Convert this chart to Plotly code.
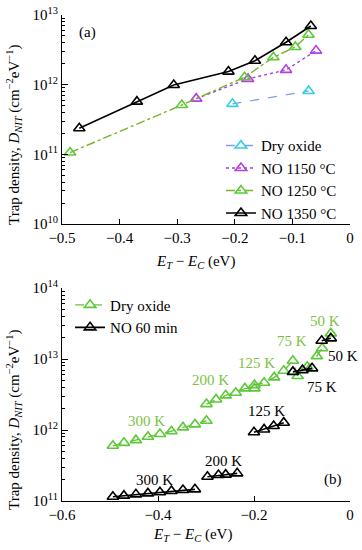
import math
import plotly.graph_objects as go

# ---------- Panel (a) data ----------
a_dry_x = [-0.204, -0.072]
a_dry_y = [5.3e11, 8.1e11]
a_1150_x = [-0.267, -0.177, -0.111, -0.059]
a_1150_y = [6.3e11, 1.21e12, 1.63e12, 3.08e12]
a_1250_x = [-0.486, -0.292, -0.183, -0.133, -0.095, -0.072]
a_1250_y = [1.06e11, 5.1e11, 1.28e12, 2.47e12, 3.48e12, 5.2e12]
a_1350_x = [-0.470, -0.370, -0.306, -0.211, -0.165, -0.111, -0.068]
a_1350_y = [2.37e11, 5.7e11, 9.9e11, 1.54e12, 2.2e12, 4.06e12, 6.95e12]

# ---------- Panel (b) data ----------
b_dry_x = [-0.494, -0.471, -0.446, -0.421, -0.396, -0.372, -0.348, -0.323, -0.299, None,
           -0.299, -0.279, -0.259, -0.238, -0.219, -0.199, -0.199, -0.179, -0.158, -0.138,
           -0.119, -0.109, -0.089, -0.069, -0.058, -0.040]
b_dry_y = [6.0e11, 6.6e11, 7.2e11, 8.05e11, 8.8e11, 9.6e11, 1.09e12, 1.20e12, 1.35e12, None,
           2.32e12, 2.70e12, 3.08e12, 3.35e12, 3.86e12, 3.86e12, 4.3e12, 4.63e12, 5.52e12, 6.84e12,
           9.46e12, 5.77e12, 7.8e12, 1.10e13, 1.42e13, 2.30e13]
b_no_x = [-0.494, -0.471, -0.446, -0.421, -0.396, -0.372, -0.348, -0.323, None,
          -0.297, -0.274, -0.259, -0.235, None,
          -0.200, -0.179, -0.159, -0.138, None,
          -0.119, -0.099, -0.079, None,
          -0.059, -0.040]
b_no_y = [1.15e11, 1.19e11, 1.24e11, 1.28e11, 1.33e11, 1.38e11, 1.43e11, 1.46e11, None,
          2.20e11, 2.32e11, 2.35e11, 2.45e11, None,
          9.3e11, 1.02e12, 1.14e12, 1.27e12, None,
          6.6e12, 7.0e12, 7.4e12, None,
          1.81e13, 1.96e13]

green_labels = ["300 K", "200 K", "125 K", "75 K", "50 K"]
green_lab_x = [-0.423, -0.290, -0.194, -0.121, -0.052]
green_lab_y = [1.34e12, 5.06e12, 8.8e12, 1.79e13, 3.43e13]
black_labels = ["300 K", "200 K", "125 K", "75 K", "50 K"]
black_lab_x = [-0.408, -0.263, -0.175, -0.058, -0.015]
black_lab_y = [1.98e11, 3.66e11, 1.85e12, 4.04e12, 1.10e13]

FONT = "Liberation Serif"
GREEN_TXT = "#7cc242"

fig = go.Figure()

def tri(color):
    return dict(symbol="triangle-up-open", size=10, color=color, line=dict(width=1.6, color=color))

fig.add_trace(go.Scatter(x=a_dry_x, y=a_dry_y, name="Dry oxide", mode="lines+markers",
                         line=dict(color="#7f9fe6", dash="dash", width=1.4), marker=tri("#2fcfe6"),
                         xaxis="x", yaxis="y", legend="legend"))
fig.add_trace(go.Scatter(x=a_1150_x, y=a_1150_y, name="NO 1150 °C", mode="lines+markers",
                         line=dict(color="#a040e0", dash="dot", width=1.4), marker=tri("#b83ee0"),
                         xaxis="x", yaxis="y", legend="legend"))
fig.add_trace(go.Scatter(x=a_1250_x, y=a_1250_y, name="NO 1250 °C", mode="lines+markers",
                         line=dict(color="#78b428", dash="dashdot", width=1.4), marker=tri("#5cc83a"),
                         xaxis="x", yaxis="y", legend="legend"))
fig.add_trace(go.Scatter(x=a_1350_x, y=a_1350_y, name="NO 1350 °C", mode="lines+markers",
                         line=dict(color="black", width=1.6), marker=tri("black"),
                         xaxis="x", yaxis="y", legend="legend"))

fig.add_trace(go.Scatter(x=b_dry_x, y=b_dry_y, name="Dry oxide", mode="lines+markers",
                         line=dict(color="#6cc23a", dash="dash", width=1.4), marker=tri("#5cc83a"),
                         xaxis="x2", yaxis="y2", legend="legend2", connectgaps=False))
fig.add_trace(go.Scatter(x=b_no_x, y=b_no_y, name="NO 60 min", mode="lines+markers",
                         line=dict(color="black", width=1.6), marker=tri("black"),
                         xaxis="x2", yaxis="y2", legend="legend2", connectgaps=False))

# annotations on log axes take log10 of the value
for t, x, y in zip(green_labels, green_lab_x, green_lab_y):
    fig.add_annotation(x=x, y=math.log10(y), text=t, xref="x2", yref="y2",
                       showarrow=False, font=dict(family=FONT, size=15, color=GREEN_TXT))
for t, x, y in zip(black_labels, black_lab_x, black_lab_y):
    fig.add_annotation(x=x, y=math.log10(y), text=t, xref="x2", yref="y2",
                       showarrow=False, font=dict(family=FONT, size=15, color="black"))

def sup(e):
    return "10<sup>%d</sup>" % e

common_x = dict(showline=True, linecolor="black", linewidth=1.2, ticks="inside", ticklen=5,
                tickcolor="black", showgrid=False, zeroline=False, mirror=False, automargin=False,
                tickfont=dict(family=FONT, size=15, color="black"))
common_y = dict(type="log", showline=True, linecolor="black", linewidth=1.2, ticks="inside",
                ticklen=6, tickcolor="black", showgrid=False, zeroline=False, automargin=False,
                tickfont=dict(family=FONT, size=15, color="black"),
                minor=dict(ticks="inside", ticklen=3, tickcolor="black", dtick="D1", showgrid=False))

fig.update_layout(
    width=362, height=550, margin=dict(l=62, r=12, t=15, b=49),
    paper_bgcolor="white", plot_bgcolor="white",
    font=dict(family=FONT, size=15, color="black"),
    xaxis=dict(domain=[0, 1], anchor="y", range=[-0.5, 0.0], tickvals=[-0.5, -0.4, -0.3, -0.2, -0.1, 0],
               ticktext=["−0.5", "−0.4", "−0.3", "−0.2", "−0.1", "0"], **common_x),
    yaxis=dict(domain=[0.570, 1.0], anchor="x", range=[10, 13],
               tickvals=[1e10, 1e11, 1e12, 1e13], ticktext=[sup(10), sup(11), sup(12), sup(13)], **common_y),
    xaxis2=dict(domain=[0, 1], anchor="y2", range=[-0.6, 0.0], tickvals=[-0.6, -0.4, -0.2, 0],
                ticktext=["−0.6", "−0.4", "−0.2", "0"], **common_x),
    yaxis2=dict(domain=[0.0, 0.438], anchor="x2", range=[11, 14],
                tickvals=[1e11, 1e12, 1e13, 1e14], ticktext=[sup(11), sup(12), sup(13), sup(14)], **common_y),
    legend=dict(x=0.552, y=0.765, xanchor="left", yanchor="top", bgcolor="rgba(0,0,0,0)",
                font=dict(family=FONT, size=15), tracegroupgap=0, itemwidth=30),
    legend2=dict(x=0.028, y=0.437, xanchor="left", yanchor="top", bgcolor="rgba(0,0,0,0)",
                 font=dict(family=FONT, size=15), tracegroupgap=0, itemwidth=30),
    showlegend=True,
)

fig.add_annotation(x=-0.455, y=12.756, xref="x", yref="y", text="(a)", showarrow=False,
                   font=dict(family=FONT, size=15))
fig.add_annotation(x=-0.035, y=11.3, xref="x2", yref="y2", text="(b)", showarrow=False,
                   font=dict(family=FONT, size=15))

ytitle = "Trap density, <i>D</i><sub><i>NIT</i></sub> (cm<sup>−2</sup>eV<sup>−1</sup>)"
fig.add_annotation(x=(14 - 62) / 288, y=(501 - 135) / 486, xref="paper", yref="paper", text=ytitle,
                   textangle=-90, showarrow=False, xanchor="center", yanchor="middle",
                   font=dict(family=FONT, size=15))
fig.add_annotation(x=(14 - 62) / 288, y=(501 - 420) / 486, xref="paper", yref="paper", text=ytitle,
                   textangle=-90, showarrow=False, xanchor="center", yanchor="middle",
                   font=dict(family=FONT, size=15))
xtitle = "<i>E</i><sub><i>T</i></sub> − <i>E</i><sub><i>C</i></sub> (eV)"
fig.add_annotation(x=(195 - 62) / 288, y=(501 - 262) / 486, xref="paper", yref="paper", text=xtitle,
                   showarrow=False, xanchor="center", yanchor="middle", font=dict(family=FONT, size=15))
fig.add_annotation(x=(192 - 62) / 288, y=(501 - 535) / 486, xref="paper", yref="paper", text=xtitle,
                   showarrow=False, xanchor="center", yanchor="middle", font=dict(family=FONT, size=15))

# remove the default page margin so the 362x550 figure fills the window exactly
fig.write_html("out.html", config={"displayModeBar": False},
               post_script="document.body.style.margin='0';document.documentElement.style.overflow='hidden';")
